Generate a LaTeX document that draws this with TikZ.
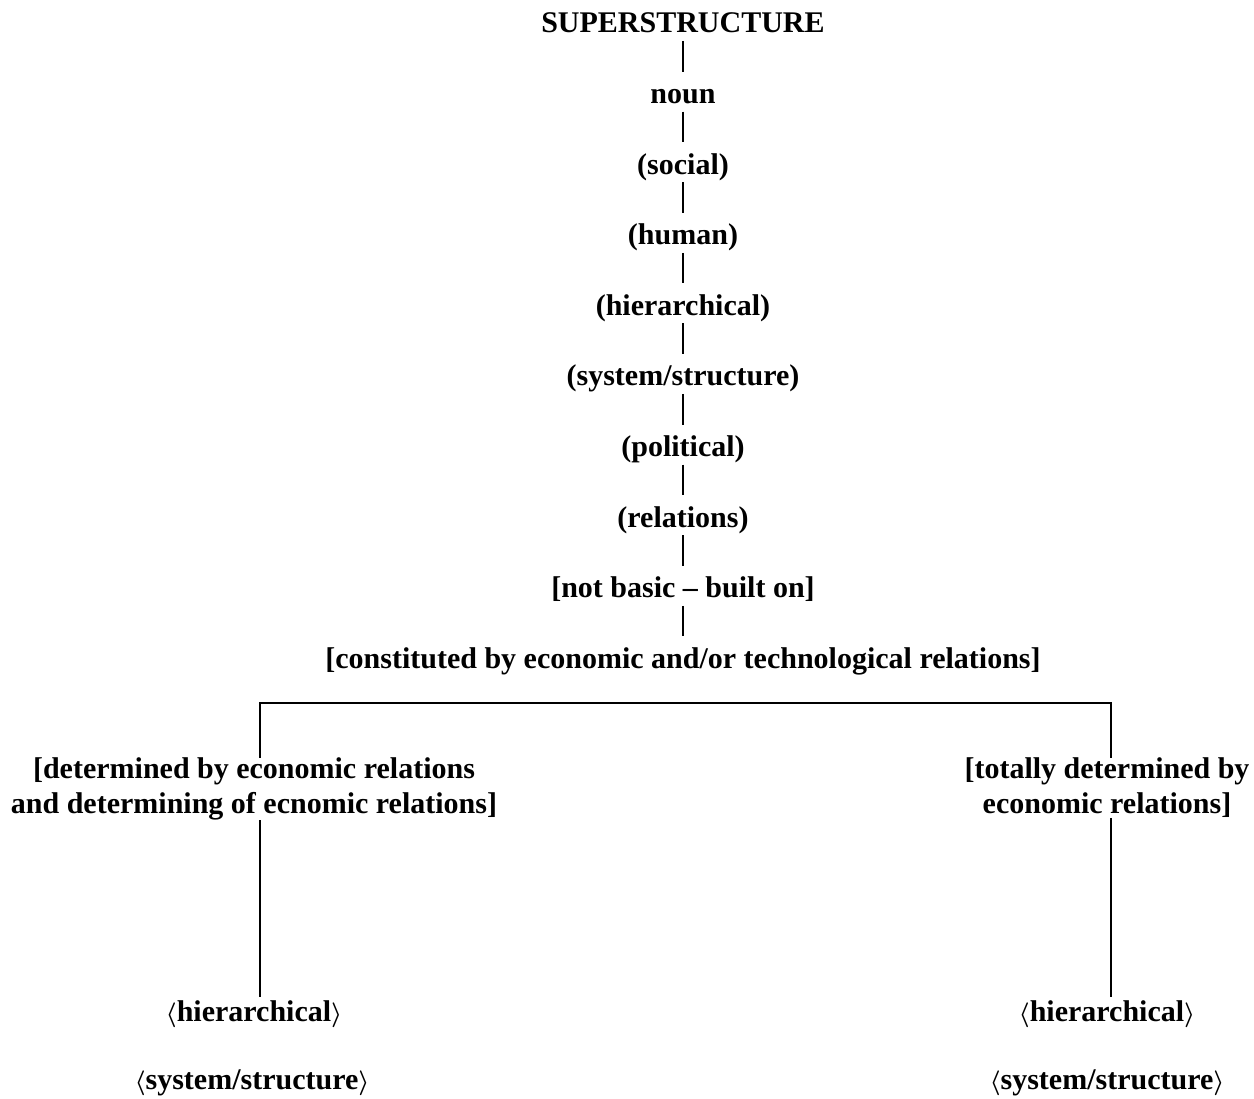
\documentclass[tikz,border=0pt]{standalone}
\usepackage{fontspec}
\setmainfont{Liberation Serif}
\usetikzlibrary{positioning}

\begin{document}
\begin{tikzpicture}[x=1pt, y=1pt, node distance=30.6pt,
  word/.style={inner sep=0pt, outer sep=0pt, text height=32pt, text depth=8pt,
    font=\fontsize{30}{35}\selectfont\bfseries},
  twoline/.style={inner sep=0pt, outer sep=0pt, align=center,
    font=\fontsize{30}{35}\selectfont\bfseries},
  leaf/.style={inner sep=0pt, outer sep=0pt, text height=25pt, text depth=8pt,
    font=\fontsize{30}{35}\selectfont\bfseries\boldmath},
  every path/.style={line width=2.3pt}]
  \useasboundingbox (0,0) rectangle (1254,1099);

  % main column
  \node[word, anchor=base] (super) at (683,1066) {SUPERSTRUCTURE};
  \node[word, below = of super] (noun) {noun};
  \node[word, below = of noun] (social) {(social)};
  \node[word, below = of social] (human) {(human)};
  \node[word, below = of human] (hier) {(hierarchical)};
  \node[word, below = of hier] (sys) {(system/structure)};
  \node[word, below = of sys] (polit) {(political)};
  \node[word, below = of polit] (rel) {(relations)};
  \node[word, below = of rel] (notbasic) {[not basic -- built on]};
  \node[word, below = of notbasic] (constit) {[constituted by economic and/or technological relations]};

  \foreach \a/\b in {super/noun, noun/social, social/human, human/hier,
    hier/sys, sys/polit, polit/rel, rel/notbasic, notbasic/constit}
    \draw (\a) -- (\b);

  % the two branches
  \coordinate (barl) at (260,396);
  \coordinate (barr) at (1111,396);

  \node[twoline, anchor=north] (detl) at (254,341)
    {[determined by economic relations\\and determining of ecnomic relations]};
  \node[twoline, anchor=north] (detr) at (1107,341)
    {[totally determined by\\economic relations]};

  \node[leaf, anchor=base] (hierl) at (254,77) {$\langle$hierarchical$\rangle$};
  \node[leaf, anchor=base] (sysl) at (252,9) {$\langle$system/structure$\rangle$};
  \node[leaf, anchor=base] (hierr) at (1107,77) {$\langle$hierarchical$\rangle$};
  \node[leaf, anchor=base] (sysr) at (1107,9) {$\langle$system/structure$\rangle$};

  \draw (detl.north -| barl) -- (barl) -- (barr) -- (detr.north -| barr);
  \draw (detl.south -| barl) -- (hierl.north -| barl);
  \draw (detr.south -| barr) -- (hierr.north -| barr);
\end{tikzpicture}
\end{document}
